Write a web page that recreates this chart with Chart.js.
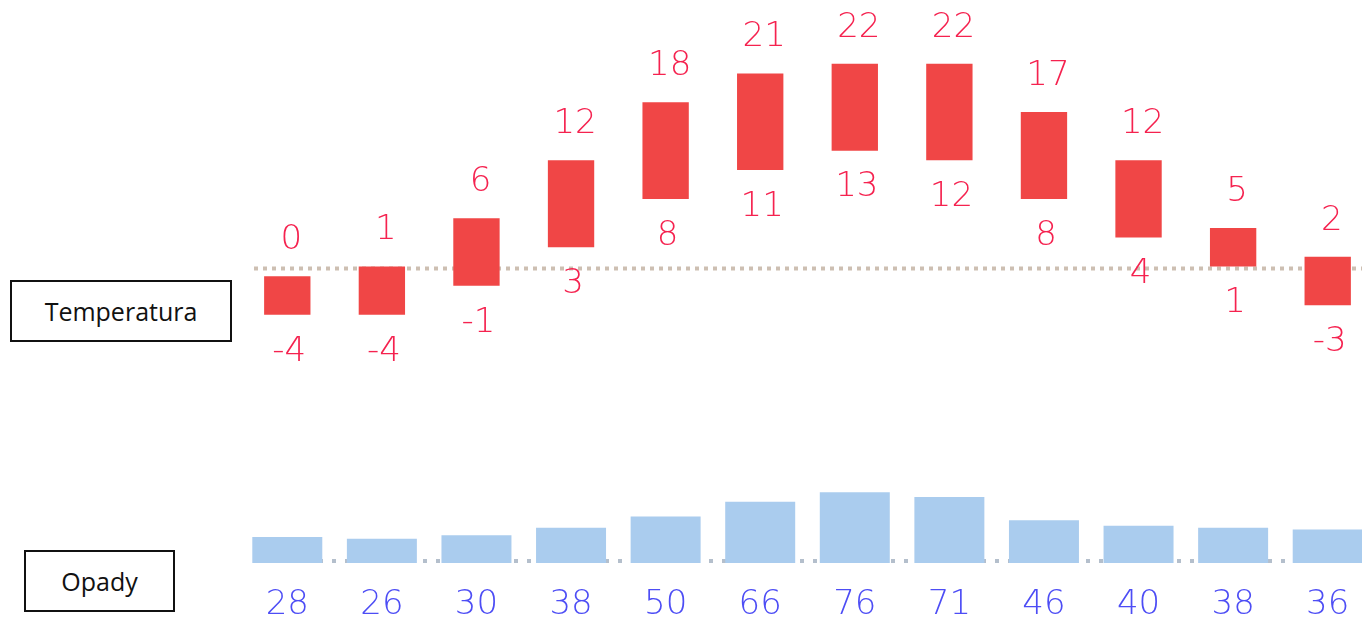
<!DOCTYPE html>
<html>
<head>
<meta charset="utf-8">
<script src="https://cdn.jsdelivr.net/npm/chart.js@4.4.0/dist/chart.umd.min.js"></script>
<style>
  html, body { margin: 0; padding: 0; background: #fff; overflow: hidden; }
  #wrap { position: relative; width: 1362px; height: 618px; overflow: hidden; }
  #wrap canvas { position: absolute; left: 0; top: 0; }
  .box {
    position: absolute; border: 2px solid #111; background: #fff;
    font-family: "Open Sans", sans-serif; font-size: 25px; color: #111;
    display: flex; align-items: center; justify-content: center; box-sizing: border-box;
  }
</style>
</head>
<body>
<div id="wrap">
  <canvas id="myChart" width="1375" height="618"></canvas>
  <div class="box" style="left:10px; top:280px; width:222px; height:62px;">Temperatura</div>
  <div class="box" style="left:24px; top:550px; width:151px; height:62px;">Opady</div>
</div>
<script>
// months (no visible tick labels in the picture)
const months = ['I', 'II', 'III', 'IV', 'V', 'VI', 'VII', 'VIII', 'IX', 'X', 'XI', 'XII'];
const tempMax = [0, 1, 6, 12, 18, 21, 22, 22, 17, 12, 5, 2];
const tempMin = [-4, -4, -1, 3, 8, 11, 13, 12, 8, 4, 1, -3];
const opady = [28, 26, 30, 38, 50, 66, 76, 71, 46, 40, 38, 36];

const refLineTemp = 0.8; // dotted line sits slightly above zero, as in the picture

const numFont = '200 34px "DejaVu Sans", sans-serif';

const extras = {
    id: 'extras',
    beforeDatasetsDraw(chart) {
        const ctx = chart.ctx;
        const area = chart.chartArea;
        const yT = chart.scales.yT;
        const yP = chart.scales.yP;
        ctx.save();
        ctx.lineWidth = 4;
        // dotted line in temperature part
        ctx.strokeStyle = '#cdbfb2';
        ctx.setLineDash([4, 5]);
        let y = yT.getPixelForValue(refLineTemp);
        ctx.beginPath();
        ctx.moveTo(area.left + 14, y);
        ctx.lineTo(area.right, y);
        ctx.stroke();
        // dotted baseline under precipitation bars
        ctx.strokeStyle = '#b4bfcc';
        ctx.setLineDash([4, 9]);
        y = yP.getPixelForValue(0) - 2;
        ctx.beginPath();
        ctx.moveTo(area.left + 14, y);
        ctx.lineTo(area.right, y);
        ctx.stroke();
        ctx.restore();
    },
    afterDatasetsDraw(chart) {
        const ctx = chart.ctx;
        ctx.save();
        ctx.font = numFont;
        ctx.textAlign = 'center';
        ctx.textBaseline = 'middle';
        // temperature labels
        ctx.fillStyle = '#f5224f';
        chart.getDatasetMeta(0).data.forEach(function (bar, i) {
            const top = Math.min(bar.y, bar.base);
            const bottom = Math.max(bar.y, bar.base);
            ctx.fillText(String(tempMax[i]), bar.x + 4, top - 36);
            ctx.fillText(String(tempMin[i]), bar.x + 2, bottom + 37);
        });
        // precipitation labels
        ctx.fillStyle = '#4d4df5';
        chart.getDatasetMeta(1).data.forEach(function (bar, i) {
            ctx.fillText(String(opady[i]), bar.x, chart.scales.yP.getPixelForValue(0) + 42);
        });
        ctx.restore();
    }
};

function initializeChart() {
    const ctx = document.getElementById('myChart').getContext('2d');
    new Chart(ctx, {
        type: 'bar',
        data: {
            labels: months,
            datasets: [{
                label: 'Temperatura',
                data: tempMin.map(function (v, i) { return [v, tempMax[i]]; }),
                backgroundColor: '#f04646',
                yAxisID: 'yT',
                barPercentage: 0.49,
                categoryPercentage: 1,
                grouped: false
            }, {
                label: 'Opady',
                data: opady,
                backgroundColor: '#aaccee',
                yAxisID: 'yP',
                barPercentage: 0.74,
                categoryPercentage: 1,
                grouped: false
            }]
        },
        options: {
            responsive: false,
            animation: false,
            layout: { padding: { left: 240, right: 0, top: 0, bottom: 0 } },
            plugins: { legend: { display: false }, tooltip: { enabled: false } },
            scales: {
                x: { display: false },
                yT: { display: false, min: -35.4, max: 28.6 },
                yP: { display: false, min: -59.1, max: 605.4 }
            }
        },
        plugins: [extras]
    });
}

document.addEventListener('DOMContentLoaded', function () {
    initializeChart();
});
</script>
</body>
</html>
